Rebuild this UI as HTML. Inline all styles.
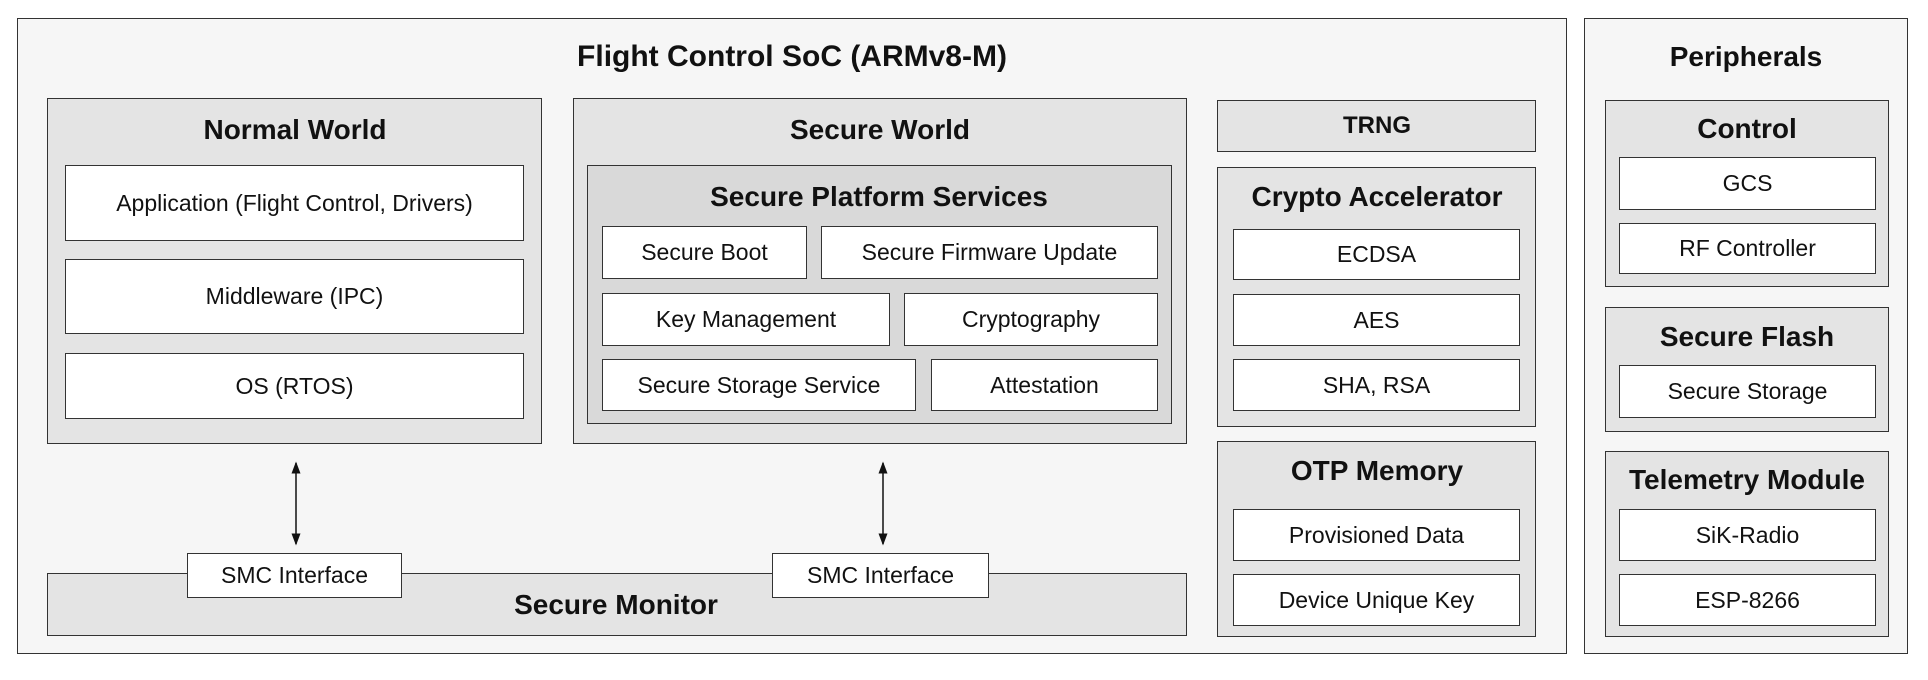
<!DOCTYPE html>
<html><head><meta charset="utf-8"><style>
body{margin:0;width:1928px;height:680px;background:#fff;position:relative;overflow:hidden;font-family:"Liberation Sans",sans-serif;color:#111}
.b{position:absolute;box-sizing:border-box;border:1.5px solid #333}
.o{background:#f6f6f6}
.g{background:#e4e4e4}
.w{background:#fff;display:flex;align-items:center;justify-content:center;font-size:23px}
.t{position:absolute;font-weight:bold;font-size:28px;transform:translate(-50%,-50%);white-space:nowrap}
</style></head><body>
<div class="b o" style="left:17px;top:18px;width:1550px;height:636px"></div>
<div class="t" style="left:792px;top:57px;font-size:30px">Flight Control SoC (ARMv8-M)</div>

<div class="b g" style="left:47px;top:98px;width:495px;height:346px"></div>
<div class="t" style="left:295px;top:130px">Normal World</div>
<div class="b w" style="left:65px;top:165px;width:459px;height:76px">Application (Flight Control, Drivers)</div>
<div class="b w" style="left:65px;top:259px;width:459px;height:75px">Middleware (IPC)</div>
<div class="b w" style="left:65px;top:353px;width:459px;height:66px">OS (RTOS)</div>

<div class="b g" style="left:573px;top:98px;width:614px;height:346px"></div>
<div class="t" style="left:880px;top:130px">Secure World</div>
<div class="b g" style="left:587px;top:165px;width:585px;height:259px;background:#d9d9d9"></div>
<div class="t" style="left:879px;top:197px">Secure Platform Services</div>
<div class="b w" style="left:602px;top:226px;width:205px;height:53px">Secure Boot</div>
<div class="b w" style="left:821px;top:226px;width:337px;height:53px">Secure Firmware Update</div>
<div class="b w" style="left:602px;top:293px;width:288px;height:53px">Key Management</div>
<div class="b w" style="left:904px;top:293px;width:254px;height:53px">Cryptography</div>
<div class="b w" style="left:602px;top:359px;width:314px;height:52px">Secure Storage Service</div>
<div class="b w" style="left:931px;top:359px;width:227px;height:52px">Attestation</div>

<div class="b g" style="left:47px;top:573px;width:1140px;height:63px"></div>
<div class="t" style="left:616px;top:605px">Secure Monitor</div>
<div class="b w" style="left:187px;top:553px;width:215px;height:45px">SMC Interface</div>
<div class="b w" style="left:772px;top:553px;width:217px;height:45px">SMC Interface</div>
<svg style="position:absolute;left:0;top:0" width="1928" height="680">
<defs><marker id="a" markerWidth="8" markerHeight="8" refX="7" refY="4" orient="auto-start-reverse"><path d="M0,1 L8,4 L0,7z" fill="#111"/></marker></defs>
<line x1="296" y1="463" x2="296" y2="544" stroke="#111" stroke-width="1.5" marker-start="url(#a)" marker-end="url(#a)"/>
<line x1="883" y1="463" x2="883" y2="544" stroke="#111" stroke-width="1.5" marker-start="url(#a)" marker-end="url(#a)"/>
</svg>

<div class="b g" style="left:1217px;top:100px;width:319px;height:52px"></div>
<div class="t" style="left:1377px;top:126px;font-size:24px">TRNG</div>
<div class="b g" style="left:1217px;top:167px;width:319px;height:260px"></div>
<div class="t" style="left:1377px;top:197px">Crypto Accelerator</div>
<div class="b w" style="left:1233px;top:229px;width:287px;height:51px">ECDSA</div>
<div class="b w" style="left:1233px;top:294px;width:287px;height:52px">AES</div>
<div class="b w" style="left:1233px;top:359px;width:287px;height:52px">SHA, RSA</div>
<div class="b g" style="left:1217px;top:441px;width:319px;height:196px"></div>
<div class="t" style="left:1377px;top:471px">OTP Memory</div>
<div class="b w" style="left:1233px;top:509px;width:287px;height:52px">Provisioned Data</div>
<div class="b w" style="left:1233px;top:574px;width:287px;height:52px">Device Unique Key</div>

<div class="b o" style="left:1584px;top:18px;width:324px;height:636px"></div>
<div class="t" style="left:1746px;top:57px">Peripherals</div>
<div class="b g" style="left:1605px;top:100px;width:284px;height:187px"></div>
<div class="t" style="left:1747px;top:129px">Control</div>
<div class="b w" style="left:1619px;top:157px;width:257px;height:53px">GCS</div>
<div class="b w" style="left:1619px;top:223px;width:257px;height:51px">RF Controller</div>
<div class="b g" style="left:1605px;top:307px;width:284px;height:125px"></div>
<div class="t" style="left:1747px;top:337px">Secure Flash</div>
<div class="b w" style="left:1619px;top:365px;width:257px;height:53px">Secure Storage</div>
<div class="b g" style="left:1605px;top:451px;width:284px;height:186px"></div>
<div class="t" style="left:1747px;top:480px">Telemetry Module</div>
<div class="b w" style="left:1619px;top:509px;width:257px;height:52px">SiK-Radio</div>
<div class="b w" style="left:1619px;top:574px;width:257px;height:52px">ESP-8266</div>
</body></html>
